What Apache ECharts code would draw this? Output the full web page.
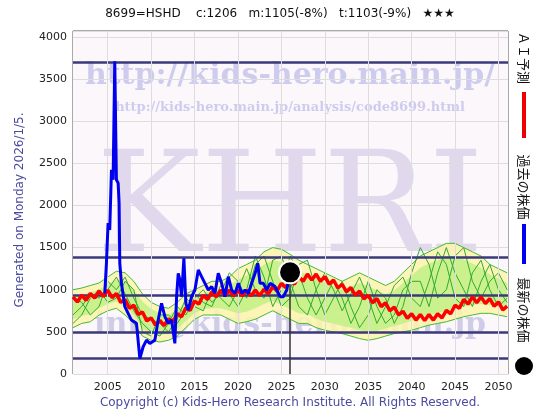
<!DOCTYPE html>
<html lang="ja">
<head>
<meta charset="UTF-8">
<title>8699</title>
<script src="https://cdn.jsdelivr.net/npm/echarts@6/dist/echarts.min.js"></script>
<style>
  html,body{margin:0;padding:0;background:#fff;}
  #main{width:560px;height:420px;}
</style>
</head>
<body>
<div id="main"></div>
<script>
// 過去の株価 [年, 値]
var pastYears = [2004.66,2004.85,2005.04,2005.23,2005.43,2005.62,2005.81,2006.0,2006.2,2006.31,2006.39,2006.58,2006.97,2007.35,2007.73,2008.31,2008.7,2009.08,2009.47,2009.85,2010.43,2010.81,2011.2,2011.58,2011.97,2012.35,2012.73,2012.93,2013.12,2013.31,2013.5,2013.77,2014.0,2014.27,2014.66,2015.04,2015.43,2015.81,2016.2,2016.58,2016.97,2017.35,2017.73,2018.12,2018.5,2018.89,2019.27,2019.66,2020.04,2020.43,2020.81,2021.2,2021.58,2021.97,2022.27,2022.54,2022.93,2023.31,2023.7,2024.27,2024.85,2025.23,2025.62,2026.0];
var pastVals = [957,1314,1790,1710,2424,2305,3712,2305,2265,2027,1314,1076,799,720,640,601,184,323,402,363,402,640,838,680,601,640,363,918,1195,1116,918,1373,838,759,918,997,1235,1155,1076,997,1037,957,1195,1076,918,1155,997,957,1076,957,997,957,1076,1195,1314,1076,1076,997,1076,1037,918,918,997,1206];

// AI予測 (2001.0 から 0.5年ごと)
var aiStart = 2001, aiStep = 0.5;
var aiVals = [915,855,935,875,955,900,985,920,995,905,955,850,885,780,815,705,735,630,665,580,
  635,575,655,615,715,680,785,755,865,830,935,885,975,915,995,925,995,925,995,925,
  995,925,995,930,1005,950,1035,985,1075,1025,1115,1065,1155,1100,1185,1115,1185,1100,1155,1065,
  1115,1020,1065,975,1025,935,985,890,935,845,895,800,845,750,795,700,745,660,715,640,
  705,635,705,640,715,665,755,715,815,780,885,830,915,845,915,835,895,805,855,760,805];

// 予測レンジ (2001..2051 毎年)
var outerHi = [1000,1020,1050,1080,1150,1220,1200,1100,950,850, 800,780,850,950,1000,1050,1100,1100,1150,1250,
  1300,1350,1450,1500,1480,1420,1350,1300,1250,1200, 1150,1100,1150,1200,1150,1100,1050,1100,1200,1300,
  1400,1450,1500,1550,1550,1500,1450,1400,1300,1250, 1200];
var outerLo = [550,600,620,700,750,780,700,600,450,400, 380,400,450,550,650,700,700,700,650,600,
  620,650,700,750,700,650,600,600,550,520, 500,480,450,420,400,420,450,480,500,520,
  550,580,600,620,650,680,700,720,720,700, 680];
var innerHi = [920,940,970,1000,1060,1120,1100,1000,860,770, 720,700,760,850,900,950,1000,1000,1050,1120,
  1170,1220,1300,1350,1330,1280,1220,1180,1130,1090, 1040,1000,1040,1080,1040,990,950,990,1080,1170,
  1260,1310,1350,1400,1400,1360,1310,1260,1180,1130, 1080];
var innerLo = [650,690,710,780,830,860,790,700,540,480, 460,480,530,630,720,770,780,780,750,720,
  740,780,830,870,820,770,720,710,660,620, 600,570,550,520,500,510,540,570,600,630,
  670,700,720,750,780,800,820,830,820,800, 780];
var green1 = [700,800,950,900,1000,1150,950,750,600,500, 450,600,800,700,900,1000,850,950,1200,1100,
  900,1300,1400,1100,800,900,1300,1350,1000,700, 900,1100,800,550,700,1000,900,600,800,1200,
  1500,1300,900,1000,1400,1500,1100,900,1100,1200, 1000];
var green2 = [900,850,700,800,1100,1000,1150,900,700,650, 600,500,650,900,800,750,1000,900,800,1000,
  1250,1000,900,1350,1400,1100,800,700,1000,1200, 1000,750,950,1150,900,600,800,1050,1150,900,
  800,1100,1450,1300,900,800,1200,1350,1000,800, 900];
var green3 = [600,700,900,1000,850,900,1100,1000,500,450, 700,700,600,750,950,850,800,1050,950,800,
  1000,1400,1150,800,1000,1400,1200,900,700,900, 1100,900,600,800,1100,800,600,700,1000,1100,
  1100,800,1200,1500,1200,1000,800,1100,1300,1000, 850];

var latest = [2026.0, 1206];
var levels = [3700, 1380, 940, 500, 190];
var xTicks = [2005,2010,2015,2020,2025,2030,2035,2040,2045,2050];

function pairs(xs, ys){ return ys.map(function(v,i){ return [xs[i], v]; }); }
var bandYears = outerHi.map(function(v,i){ return 2001 + i; });
var aiYears = aiVals.map(function(v,i){ return aiStart + i*aiStep; });

// 帯を多角形として描く custom series
function band(hi, lo, color, z){
  var data = hi.map(function(v,i){ return [bandYears[i], lo[i], v]; });
  return {type:'custom', data:data, z:z, silent:true, clip:true,
    renderItem:function(params, api){
      if (params.dataIndex !== 0) return null;
      var top = [], bot = [];
      for (var i = 0; i < data.length; i++){
        top.push(api.coord([data[i][0], data[i][2]]));
        bot.unshift(api.coord([data[i][0], data[i][1]]));
      }
      return {type:'polygon', shape:{points:top.concat(bot)}, style:{fill:color}};
    }};
}

var chart = echarts.init(document.getElementById('main'));
var serif = 'DejaVu Serif';
var lineSeries = function(d, c, w, z){
  return {type:'line', data:d, symbol:'none', lineStyle:{color:c, width:w}, z:z, silent:true};
};

var option = {
  animation:false,
  backgroundColor:'#fff',
  grid:{left:73, right:52, top:31, bottom:46, show:true, backgroundColor:'transparent', borderColor:'#555', borderWidth:1},
  xAxis:{type:'value', min:2001, max:2051.1,
    axisLine:{show:false}, axisTick:{show:false}, splitLine:{show:false},
    axisLabel:{customValues:xTicks, color:'#222', fontSize:11, margin:8, fontFamily:'DejaVu Sans',
      formatter:function(v){ return String(v); }}},
  yAxis:{type:'value', min:0, max:4070, interval:500,
    axisLine:{show:false}, axisTick:{show:false},
    splitLine:{lineStyle:{color:'#ddd'}},
    axisLabel:{color:'#222', fontSize:11, margin:6, fontFamily:'DejaVu Sans',
      formatter:function(v){ return v > 4000 ? '' : String(v); }}},
  graphic:{z:-10, elements:[
    {type:'rect', shape:{x:73, y:31, width:435, height:343}, style:{fill:'#fbf7fb'}},
    {type:'text', left:'center', top:8, style:{text:'8699=HSHD    c:1206   m:1105(-8%)   t:1103(-9%)   ★★★', fill:'#111', font:'12px DejaVu Sans'}},
    {type:'text', x:20, y:210, rotation:Math.PI/2, style:{text:'Generated on Monday 2026/1/5.', fill:'#4a4aa0', font:'12px DejaVu Sans', align:'center', verticalAlign:'middle'}},
    {type:'text', x:290, y:403, style:{text:'Copyright (c) Kids-Hero Research Institute. All Rights Reserved.', fill:'#4a4aa0', font:'12px DejaVu Sans', align:'center', verticalAlign:'middle'}},
    {type:'text', x:290, y:76, style:{text:'http://kids-hero.main.jp/', fill:'rgba(140,140,220,0.4)', font:'bold 30px '+serif, align:'center', verticalAlign:'middle'}},
    {type:'text', x:290, y:108, style:{text:'http://kids-hero.main.jp/analysis/code8699.html', fill:'rgba(140,140,220,0.4)', font:'bold 13px '+serif, align:'center', verticalAlign:'middle'}},
    {type:'text', x:290, y:215, style:{text:'KHRI', fill:'rgba(200,185,225,0.5)', font:'140px '+serif, align:'center', verticalAlign:'middle'}},
    {type:'text', x:290, y:325, style:{text:'info@kids-hero.main.jp', fill:'rgba(140,140,200,0.4)', font:'bold 30px '+serif, align:'center', verticalAlign:'middle'}},
    {type:'text', x:524, y:58, rotation:-Math.PI/2, style:{text:'ＡＩ予測', fill:'#111', font:'13px Noto Sans CJK JP', align:'center', verticalAlign:'middle'}},
    {type:'line', shape:{x1:524, y1:92, x2:524, y2:138}, style:{stroke:'#e00', lineWidth:4}},
    {type:'text', x:524, y:187, rotation:-Math.PI/2, style:{text:'過去の株価', fill:'#111', font:'13px Noto Sans CJK JP', align:'center', verticalAlign:'middle'}},
    {type:'line', shape:{x1:524, y1:224, x2:524, y2:264}, style:{stroke:'#00e', lineWidth:4}},
    {type:'text', x:524, y:310, rotation:-Math.PI/2, style:{text:'最新の株価', fill:'#111', font:'13px Noto Sans CJK JP', align:'center', verticalAlign:'middle'}},
    {type:'circle', shape:{cx:524, cy:366, r:9}, style:{fill:'#000'}}
  ]},
  series:[
    band(outerHi, outerLo, 'rgba(252,244,170,0.85)', 2),
    band(innerHi, innerLo, 'rgba(190,240,130,0.8)', 3),
    lineSeries(pairs(bandYears, outerHi), '#44bb33', 1, 4),
    lineSeries(pairs(bandYears, outerLo), '#44bb33', 1, 4),
    lineSeries(pairs(bandYears, green1), '#33aa33', 1, 4),
    lineSeries(pairs(bandYears, green2), '#33aa33', 1, 4),
    lineSeries(pairs(bandYears, green3), '#33aa33', 1, 4),
    lineSeries(pairs(aiYears, aiVals), '#ff0000', 3.5, 5),
    {type:'line', data:pairs(pastYears, pastVals), symbol:'none', lineStyle:{color:'#0000ee', width:3}, z:6, silent:true,
      markLine:{symbol:'none', silent:true, label:{show:false},
        lineStyle:{color:'#3a3a7a', width:2.5, type:'solid'},
        data:levels.map(function(v){ return {yAxis:v}; }).concat([
          [{coord:[latest[0], 0], lineStyle:{color:'#333', width:1.5}}, {coord:latest}]
        ])}},
    {type:'line', data:[], markLine:{symbol:'none', silent:true, label:{show:false},
      lineStyle:{color:'#ddd', width:1, type:'solid'},
      data:xTicks.map(function(v){ return {xAxis:v}; })}},
    {type:'scatter', data:[latest], symbolSize:22, itemStyle:{color:'#000', opacity:1, borderColor:'#fff', borderWidth:2}, z:8, silent:true}
  ]
};
chart.setOption(option);
</script>
</body>
</html>
